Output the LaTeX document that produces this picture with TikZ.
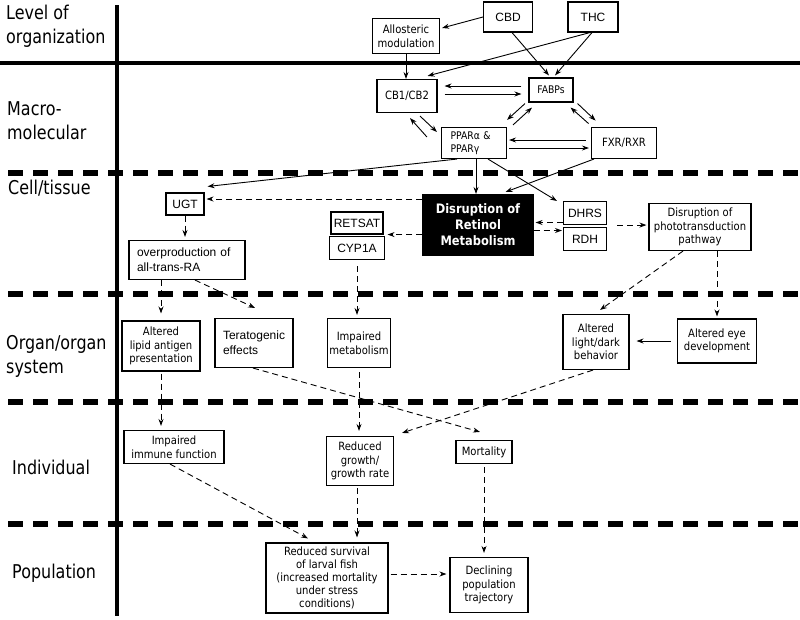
\documentclass[tikz,border=0pt]{standalone}
\usepackage{fontspec}
\setmainfont{DejaVu Sans}
\newfontfamily\arfam{Liberation Sans}
\newfontfamily\bxfam[FakeStretch=0.88]{DejaVu Sans}
\newfontfamily\lvfam[FakeStretch=0.84]{DejaVu Sans}
\usetikzlibrary{arrows.meta,calc}
\begin{document}
\begin{tikzpicture}[x=1pt,y=-1pt,
 bx/.style={draw,line width=1.1pt,inner sep=0pt,align=center,font=\bxfam\fontsize{11.4}{13.5}\selectfont},
 abx/.style={bx,font=\arfam\fontsize{12}{15}\selectfont},
 lbx/.style={draw,line width=1.1pt,inner xsep=8pt,inner ysep=0pt,align=left,font=\arfam\fontsize{12}{15}\selectfont},
 lvl/.style={anchor=west,align=left,font=\lvfam\fontsize{19}{24}\selectfont,inner sep=0pt},
 ar/.style={-{Stealth[length=7pt,width=5pt]},line width=0.9pt},
 dar/.style={ar,dash pattern=on 6pt off 4pt},
 sep/.style={line width=5.5pt,dash pattern=on 15pt off 10pt},
]
\useasboundingbox (0,0) rectangle (800,619);
% level separators
\foreach \yy in {173,294,402,524} \draw[sep] (8,\yy) -- (800,\yy);
\draw[line width=4pt] (0,63) -- (800,63);
\draw[line width=4pt] (117,5) -- (117,616);
% level labels
\node[lvl] (l1) at (6,26) {Level of\\organization};
\node[lvl] (l2) at (7,121) {Macro-\\molecular};
\node[lvl] (l3) at (8,188) {Cell/tissue};
\node[lvl] (l4) at (6,356) {Organ/organ\\system};
\node[lvl] (l5) at (12,467) {Individual};
\node[lvl] (l6) at (12,573) {Population};
% macromolecular
\node[abx,minimum width=49pt,minimum height=30pt] (cbd) at (508,17) {CBD};
\node[abx,minimum width=50pt,minimum height=30pt] (thc) at (593,17) {THC};
\node[bx,minimum width=67pt,minimum height=35pt] (allo) at (406,36) {Allosteric\\modulation};
\node[bx,minimum width=60pt,minimum height=33pt] (cb) at (407,96) {CB1/CB2};
\node[bx,minimum width=44pt,minimum height=24pt,font=\bxfam\fontsize{10.5}{12}\selectfont] (fab) at (551,90) {FABPs};
\node[bx,minimum width=65pt,minimum height=31pt,inner xsep=9pt,align=left,text width=47pt,font=\bxfam\fontsize{10.5}{13}\selectfont] (ppar) at (474,143) {PPARα \&\\PPARγ};
\node[bx,minimum width=65pt,minimum height=31pt] (fxr) at (624,143) {FXR/RXR};
% cell/tissue
\node[abx,minimum width=38pt,minimum height=22pt] (ugt) at (185,204) {UGT};
\node[lbx,text width=100pt,minimum height=39pt] (overp) at (187,260) {overproduction of\\all-trans-RA};
\node[abx,minimum width=52pt,minimum height=22pt] (retsat) at (357,223) {RETSAT};
\node[abx,minimum width=55pt,minimum height=23pt] (cyp) at (357,248) {CYP1A};
\node[bx,fill=black,text=white,minimum width=110pt,minimum height=61pt,font=\bxfam\bfseries\fontsize{13}{16}\selectfont] (dis) at (478,225) {Disruption of\\Retinol\\Metabolism};
\node[abx,minimum width=43pt,minimum height=23pt] (dhrs) at (585,213) {DHRS};
\node[abx,minimum width=43pt,minimum height=23pt] (rdh) at (585,239) {RDH};
\node[bx,minimum width=102pt,minimum height=47pt] (photo) at (700,227) {Disruption of\\phototransduction\\pathway};
% organ
\node[bx,minimum width=78pt,minimum height=50pt] (lipid) at (161,346) {Altered\\lipid antigen\\presentation};
\node[lbx,text width=62pt,minimum height=49pt] (terat) at (254,343) {Teratogenic\\effects};
\node[bx,minimum width=63pt,minimum height=49pt] (impmet) at (359,343) {Impaired\\metabolism};
\node[bx,minimum width=66pt,minimum height=55pt] (light) at (596,342) {Altered\\light/dark\\behavior};
\node[bx,minimum width=79pt,minimum height=44pt] (eye) at (717,341) {Altered eye\\development};
% individual
\node[bx,minimum width=100pt,minimum height=33pt] (immune) at (174,447) {Impaired\\immune function};
\node[bx,minimum width=67pt,minimum height=49pt] (growth) at (360,461) {Reduced\\growth/\\growth rate};
\node[bx,minimum width=56pt,minimum height=23pt] (mort) at (484,452) {Mortality};
% population
\node[bx,minimum width=122pt,minimum height=70pt,font=\bxfam\fontsize{11.4}{12.8}\selectfont] (surv) at (327,578) {Reduced survival\\of larval fish\\(increased mortality\\under stress\\conditions)};
\node[bx,minimum width=78pt,minimum height=55pt] (decl) at (489,585) {Declining\\population\\trajectory};
% solid connectors
\draw[ar] (cbd.west) -- ([shift={(2,-8)}]allo.east);
\draw[ar] ([xshift=4pt]cbd.south) -- ([shift={(-2,-2)}]fab.north);
\draw[ar] ([xshift=-1pt]thc.south) -- ([shift={(4,-2)}]fab.north);
\draw[ar] ([xshift=-3pt]thc.south) -- ([shift={(-10,-3)}]cb.north east);
\draw[ar] (allo.south) -- (allo.south |- cb.north);
\draw[ar,shorten <=7pt,shorten >=7pt] ([yshift=4pt]fab.west) -- ([yshift=4pt]fab.west -| cb.east);
\draw[ar,shorten <=7pt,shorten >=7pt] ([yshift=-4pt]fab.west -| cb.east) -- ([yshift=-4pt]fab.west);
\draw[ar] ([shift={(-14,-6)}]ppar.west) -- ([shift={(3,5)}]cb.south);
\draw[ar] ([shift={(13,3)}]cb.south) -- ([shift={(-4,-11)}]ppar.west);
\draw[ar] ([shift={(-26,1)}]fab.south) -- ([shift={(33,-7)}]ppar.north);
\draw[ar] ([shift={(39,-2)}]ppar.north) -- ([shift={(-19,5)}]fab.south);
\draw[ar] ([shift={(15,21)}]fab.south east) -- ([shift={(-3,5)}]fab.south east);
\draw[ar] ([shift={(4,1)}]fab.south east) -- ([shift={(22,18)}]fab.south east);
\draw[ar,shorten <=5pt,shorten >=2pt] ([yshift=3pt]fxr.west) -- ([yshift=3pt]fxr.west -| ppar.east);
\draw[ar,shorten <=2pt,shorten >=2pt] ([yshift=-5pt]fxr.west -| ppar.east) -- ([yshift=-5pt]fxr.west);
\draw[ar] ([xshift=16pt]ppar.south west) -- ([shift={(3,-6)}]ugt.north east);
\draw[ar] ([xshift=2pt]ppar.south) -- ([xshift=2pt]ppar.south |- dis.north);
\draw[ar] ([xshift=14pt]ppar.south) -- ([shift={(-6,0)}]dhrs.north west);
\draw[ar] ([xshift=3pt]fxr.south west) -- ([shift={(-28,-2)}]dis.north east);
\draw[ar,shorten <=6pt,shorten >=7pt] (eye.west) -- (eye.west -| light.east);
% dashed connectors
\draw[dar,shorten >=2pt] ([yshift=5pt]ugt.east -| dis.west) -- ([yshift=5pt]ugt.east);
\draw[dar,shorten >=4pt] (retsat.south -| dis.west) -- (retsat.south east);
\draw[dar,shorten >=2pt] ([yshift=-9.5pt]dhrs.west) -- ([yshift=-9.5pt]dhrs.west -| dis.east);
\draw[dar,shorten >=1pt] ([yshift=8.5pt]rdh.west -| dis.east) -- ([yshift=8.5pt]rdh.west);
\draw[dar,shorten >=2pt] ([xshift=10pt]dhrs.south east) -- (photo.west |- dhrs.south east);
\draw[dar,shorten >=3pt] (ugt.south) -- (ugt.south |- overp.north);
\draw[dar,shorten >=7pt] (overp.south -| lipid.north) -- (lipid.north);
\draw[dar] ([xshift=8pt]overp.south) -- ([shift={(1,-10)}]terat.north);
\draw[dar,shorten <=6pt,shorten >=3pt] (cyp.south) -- (cyp.south |- impmet.north);
\draw[dar] ([xshift=-17pt]photo.south) -- ([shift={(4,-4)}]light.north);
\draw[dar,shorten >=2pt] (photo.south -| eye.north) -- (eye.north);
\draw[dar,shorten <=2pt,shorten >=4pt] (lipid.south) -- (lipid.south |- immune.north);
\draw[dar] ([xshift=-1pt]terat.south) -- ([shift={(-4,-8)}]mort.north);
\draw[dar,shorten <=4pt,shorten >=5pt] (impmet.south) -- (impmet.south |- growth.north);
\draw[dar] ([xshift=-3pt]light.south) -- ([shift={(8,-3)}]growth.north east);
\draw[dar] ([xshift=-4pt]immune.south) -- ([shift={(-19,-4)}]surv.north);
\draw[dar,shorten <=2pt,shorten >=5pt] ([xshift=-3pt]growth.south) -- ([xshift=-3pt]growth.south |- surv.north);
\draw[dar,shorten <=3pt,shorten >=4pt] (mort.south) -- (mort.south |- decl.north);
\draw[dar,shorten <=2pt,shorten >=3pt] ([yshift=4pt]surv.east) -- ([yshift=4pt]surv.east -| decl.west);
\end{tikzpicture}
\end{document}
